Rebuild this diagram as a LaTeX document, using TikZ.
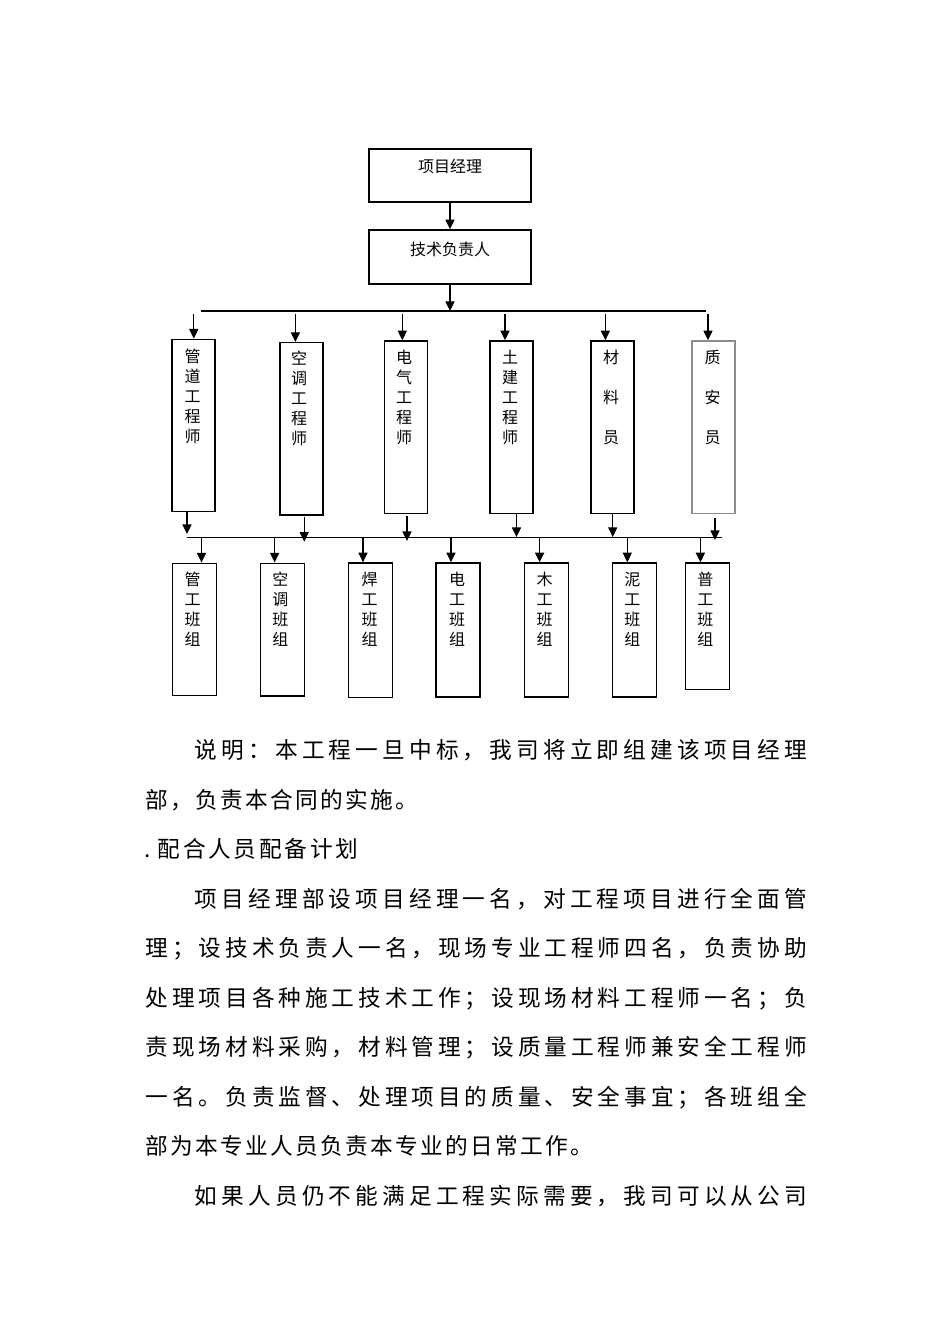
\documentclass[tikz,border=0pt]{standalone}
\usepackage{fontspec}
\newfontfamily\cjk{Noto Sans CJK SC}
\usetikzlibrary{arrows.meta}
\newcommand\chrow[2]{\def\chpitch{#1}\chrowi#2\relax}
\def\chrowi#1{\ifx#1\relax\else\hbox to \chpitch{\hss#1\hss}\expandafter\chrowi\fi}
\begin{document}
\begin{tikzpicture}[x=0.75pt,y=-0.75pt,
  box/.style={draw, line width=1.1pt, inner sep=0pt},
  wh/.style 2 args={minimum width=#1*0.75pt, minimum height=#2*0.75pt},
  lbl/.style={font=\cjk\fontsize{12}{15}\selectfont, align=center, inner sep=0pt},
  conn/.style={line width=0.9pt},
  arr/.style={conn, -{Triangle[width=6.8pt,length=7.2pt]}},
  para/.style={font=\cjk\fontsize{17}{17}\selectfont, anchor=west, inner sep=0pt, text height=15pt, text depth=2pt}]
\useasboundingbox (0,0) rectangle (950,1344);

% top boxes
\node[box, wh={162}{53}] (pm) at (450,175.5) {};
\node[lbl] (pmt) at (450,166) {项目经理};
\node[box, wh={162}{54}] (tech) at (450,257) {};
\node[lbl] (techt) at (450,249) {技术负责人};
\draw[arr] (pm.south) -- (tech.north);

% upper distribution line
\coordinate (h1l) at (201,311);
\coordinate (h1r) at (706,311);
\draw[conn] (h1l) -- (h1r);
\draw[arr] (tech.south) -- (tech.south |- h1l);

% level 2 boxes
\node[box, wh={43}{172.4}] (b1) at (193.7,425.5) {};
\node[box, wh={43}{172.4}] (b2) at (301.4,428.9) {};
\node[box, wh={43}{172.4}] (b3) at (405.8,427.2) {};
\node[box, wh={43}{172.4}] (b4) at (511.5,427.2) {};
\node[box, wh={43}{172.4}] (b5) at (612.4,427.2) {};
\node[box, wh={43}{172.4}, draw=black!45] (b6) at (713.5,427.2) {};
\node[lbl] (t1) at (192.7,396) {管\\道\\工\\程\\师};
\node[lbl] (t2) at (299,398.5) {空\\调\\工\\程\\师};
\node[lbl] (t3) at (404,397.5) {电\\气\\工\\程\\师};
\node[lbl] (t4) at (510,397.5) {土\\建\\工\\程\\师};
\node[lbl] (t5) at (611,397.5) {材\\[15pt]料\\[15pt]员};
\node[lbl] (t6) at (712.7,397.5) {质\\[15pt]安\\[15pt]员};

% arrows from upper line to level 2
\coordinate (u1) at (193.8,314);
\coordinate (u2) at (295.4,314);
\coordinate (u3) at (402.3,314);
\coordinate (u4) at (505,314);
\coordinate (u5) at (605.4,314);
\coordinate (u6) at (708,314);
\draw[arr] (u1) -- (u1 |- b1.north);
\draw[arr] (u2) -- (u2 |- b2.north);
\draw[arr] (u3) -- (u3 |- b3.north);
\draw[arr] (u4) -- (u4 |- b4.north);
\draw[arr] (u5) -- (u5 |- b5.north);
\draw[arr] (u6) -- (u6 |- b6.north);

% lower distribution line
\coordinate (h2l) at (187,537.3);
\coordinate (h2r) at (721.5,537.3);
\draw[conn] (h2l) -- (h2r);

% arrows from level 2 boxes to lower line
\coordinate (e1) at (187,534);
\coordinate (s2) at (304.2,516.7); \coordinate (e2) at (304.2,541.7);
\coordinate (s3) at (407,516);     \coordinate (e3) at (407,541);
\coordinate (e4) at (516.5,537);
\coordinate (e5) at (612.7,537);
\coordinate (s6) at (715,518);     \coordinate (e6) at (715,540);
\draw[arr] (e1 |- b1.south) -- (e1);
\draw[arr] (s2) -- (e2);
\draw[arr] (s3) -- (e3);
\draw[arr] (e4 |- b4.south) -- (e4);
\draw[arr] (e5 |- b5.south) -- (e5);
\draw[arr] (s6) -- (e6);

% level 3 boxes
\node[box, wh={44}{132.4}] (c1) at (194.4,629.5) {};
\node[box, wh={44}{132.7}] (c2) at (282.3,629.6) {};
\node[box, wh={44}{134.3}] (c3) at (370.4,630.2) {};
\node[box, wh={44}{134}] (c4) at (458.2,630) {};
\node[box, wh={44}{134}] (c5) at (546.5,630) {};
\node[box, wh={44}{134}] (c6) at (634.6,630) {};
\node[box, wh={44}{126.3}] (c7) at (707.7,626.2) {};
\node[lbl] (k1) at (192.7,609.5) {管\\工\\班\\组};
\node[lbl] (k2) at (280.4,609.5) {空\\调\\班\\组};
\node[lbl] (k3) at (369.6,609.5) {焊\\工\\班\\组};
\node[lbl] (k4) at (457,609.5) {电\\工\\班\\组};
\node[lbl] (k5) at (544.6,609.5) {木\\工\\班\\组};
\node[lbl] (k6) at (632.3,609.5) {泥\\工\\班\\组};
\node[lbl] (k7) at (705.4,609.5) {普\\工\\班\\组};

% arrows from lower line to level 3
\coordinate (v1) at (201.5,537.3);
\coordinate (v2) at (274.6,537.3);
\coordinate (v3) at (363,537.3);
\coordinate (v4) at (451,537.3);
\coordinate (v5) at (539.6,537.3);
\coordinate (v6) at (627.3,537.3);
\coordinate (v7) at (700.4,537.3);
\draw[arr] (v1) -- (v1 |- c1.north);
\draw[arr] (v2) -- (v2 |- c2.north);
\draw[arr] (v3) -- (v3 |- c3.north);
\draw[arr] (v4) -- (v4 |- c4.north);
\draw[arr] (v5) -- (v5 |- c5.north);
\draw[arr] (v6) -- (v6 |- c6.north);
\draw[arr] (v7) -- (v7 |- c7.north);

% paragraph text
\node[para] (p1) at (192.5,750) {\chrow{20.1pt}{说明：本工程一旦中标，我司将立即组建该项目经理}};
\node[para] (p2) at (144.3,799.5) {\chrow{18.75pt}{部，负责本合同的实施。}};
\node[para] (p3) at (144,849) {\hbox to 9pt{.\hss}\chrow{19.05pt}{配合人员配备计划}};
\node[para] (p4) at (192.5,898.5) {\chrow{20.1pt}{项目经理部设项目经理一名，对工程项目进行全面管}};
\node[para] (p5) at (143.5,948) {\chrow{19.95pt}{理；设技术负责人一名，现场专业工程师四名，负责协助}};
\node[para] (p6) at (143.5,997.5) {\chrow{19.95pt}{处理项目各种施工技术工作；设现场材料工程师一名；负}};
\node[para] (p7) at (143.5,1047) {\chrow{19.95pt}{责现场材料采购，材料管理；设质量工程师兼安全工程师}};
\node[para] (p8) at (143.5,1096.5) {\chrow{19.95pt}{一名。负责监督、处理项目的质量、安全事宜；各班组全}};
\node[para] (p9) at (144.3,1146) {\chrow{18.75pt}{部为本专业人员负责本专业的日常工作。}};
\node[para] (p10) at (192.5,1196) {\chrow{20.1pt}{如果人员仍不能满足工程实际需要，我司可以从公司}};
\end{tikzpicture}
\end{document}
